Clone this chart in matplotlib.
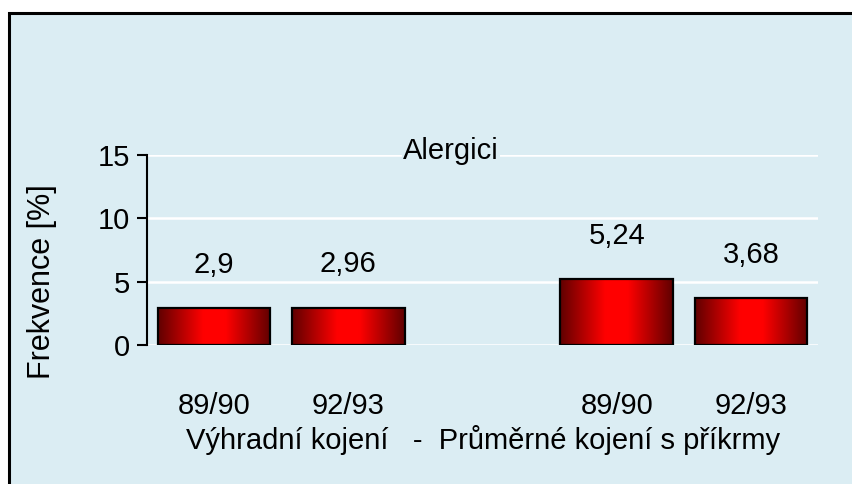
import matplotlib
matplotlib.use("Agg")
import matplotlib.pyplot as plt
import numpy as np
from matplotlib.colors import LinearSegmentedColormap
from matplotlib.patches import Rectangle

# ---- data ----
categories = ["89/90", "92/93", "89/90", "92/93"]
positions = [0, 1, 3, 4]
values = [2.9, 2.96, 5.24, 3.68]
value_labels = ["2,9", "2,96", "5,24", "3,68"]
yticks = [0, 5, 10, 15]
title = "Alergici"
ylabel = "Frekvence [%]"
xlabel = "Výhradní kojení   -  Průměrné kojení s příkrmy"

plt.rcParams['font.family'] = ['Liberation Sans', 'DejaVu Sans']
FS = 21

W, H = 852, 484
fig = plt.figure(figsize=(W / 100, H / 100), dpi=100)
fig.patch.set_facecolor("white")

bg = "#DBEDF3"
frame = Rectangle((9 / W, -0.05), 1.0, (1 - 13 / H) + 0.05, transform=fig.transFigure,
                  facecolor=bg, edgecolor="black", linewidth=2.2, zorder=-10)
fig.add_artist(frame)

ax = fig.add_axes([147 / W, 1 - 345 / H, (818 - 147) / W, (345 - 155) / H])
ax.set_zorder(5)
ax.set_facecolor("none")
ax.set_xlim(-0.5, 4.5)
ax.set_ylim(0, 15)

for s in ["top", "right", "bottom"]:
    ax.spines[s].set_visible(False)
ax.spines["left"].set_linewidth(1.5)
ax.spines["left"].set_color("black")

ax.set_yticks(yticks)
ax.set_yticklabels([str(t) for t in yticks], fontsize=FS)
ax.tick_params(axis="y", length=7, width=1.5, pad=5)
ax.yaxis.grid(True, color="white", linewidth=1.8)
ax.set_axisbelow(True)

ax.set_xticks(positions)
ax.set_xticklabels(categories, fontsize=FS)
ax.tick_params(axis="x", length=0, pad=34)

cmap = LinearSegmentedColormap.from_list(
    "redgrad", ["#600000", "#B00000", "#FF0000", "#FF0000", "#B00000", "#600000"])
grad = np.linspace(0, 1, 256).reshape(1, -1)

bars = ax.bar(positions, values, width=0.84, facecolor="none",
              edgecolor="black", linewidth=1.6, zorder=3)
for b in bars:
    x0, y0 = b.get_x(), b.get_y()
    w, h = b.get_width(), b.get_height()
    ax.imshow(grad, cmap=cmap, extent=(x0, x0 + w, y0, y0 + h),
              aspect="auto", zorder=2, interpolation="bicubic")

for p, v, lab in zip(positions, values, value_labels):
    ax.annotate(lab, (p, v), xytext=(0, 31), textcoords="offset points",
                ha="center", va="center", fontsize=FS)

ax.set_xlim(-0.5, 4.5)
ax.set_ylim(0, 15)

t = fig.text(451 / W, 1 - 151 / H, title, ha="center", va="center", fontsize=FS,
             zorder=20, bbox=dict(facecolor=bg, edgecolor="none", pad=1))
fig.text(42 / W, 1 - 282 / H, ylabel, ha="center", va="center", rotation=90, fontsize=FS + 1)
fig.text(483 / W, 1 - 440 / H, xlabel, ha="center", va="center", fontsize=FS)

fig.savefig("out.png", dpi=100, facecolor="white")
